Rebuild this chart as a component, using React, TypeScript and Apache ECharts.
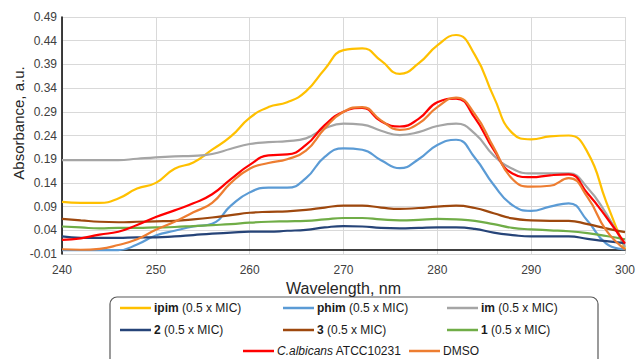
import React, { useEffect, useRef } from "react";
import * as echarts from "echarts";

const wavelengths = [
  240, 242, 244, 246, 248, 250, 252, 254, 256, 258, 260, 262, 264, 266, 268, 270,
  272, 274, 276, 278, 280, 282, 284, 286, 288, 290, 292, 294, 296, 298, 300,
];

const ipim = [
  0.1, 0.098, 0.098, 0.107, 0.128, 0.14, 0.17, 0.183, 0.21, 0.238, 0.277, 0.3, 0.31, 0.333, 0.38, 0.42,
  0.424, 0.398, 0.37, 0.392, 0.43, 0.452, 0.41, 0.322, 0.245, 0.232, 0.238, 0.24, 0.205, 0.1, 0.0,
];
const phim = [
  -0.002, -0.002, -0.002, -0.002, 0.01, 0.029, 0.039, 0.048, 0.054, 0.092, 0.12, 0.13, 0.13, 0.15, 0.195, 0.213,
  0.21, 0.188, 0.171, 0.19, 0.22, 0.231, 0.193, 0.136, 0.093, 0.081, 0.09, 0.097, 0.06, 0.012, 0.0,
];
const im = [
  0.188, 0.188, 0.188, 0.188, 0.191, 0.194, 0.196, 0.197, 0.201, 0.212, 0.222, 0.226, 0.228, 0.234, 0.255, 0.265,
  0.263, 0.25, 0.241, 0.247, 0.26, 0.265, 0.244, 0.198, 0.17, 0.16, 0.16, 0.16, 0.13, 0.075, 0.005,
];
const comp2 = [
  0.027, 0.024, 0.024, 0.024, 0.025, 0.025, 0.027, 0.03, 0.033, 0.035, 0.037, 0.037, 0.039, 0.041, 0.046, 0.049,
  0.048, 0.045, 0.044, 0.045, 0.046, 0.046, 0.043, 0.035, 0.03, 0.027, 0.027, 0.027, 0.022, 0.017, 0.013,
];
const comp3 = [
  0.064, 0.061, 0.058, 0.057, 0.058, 0.059, 0.06, 0.063, 0.067, 0.072, 0.077, 0.079, 0.08, 0.083, 0.088, 0.092,
  0.092, 0.088, 0.085, 0.087, 0.09, 0.092, 0.087, 0.076, 0.065, 0.061, 0.06, 0.06, 0.053, 0.044, 0.036,
];
const comp1 = [
  0.048, 0.046, 0.044, 0.045, 0.045, 0.046, 0.047, 0.049, 0.051, 0.053, 0.056, 0.058, 0.059, 0.06, 0.063, 0.066,
  0.066, 0.063, 0.061, 0.062, 0.064, 0.063, 0.06, 0.053, 0.045, 0.042, 0.04, 0.038, 0.034, 0.028, 0.021,
];
const albicans = [
  0.02, 0.023, 0.031, 0.037, 0.051, 0.068, 0.082, 0.097, 0.116, 0.148, 0.178, 0.198, 0.2, 0.22, 0.262, 0.29,
  0.298, 0.27, 0.259, 0.275, 0.31, 0.318, 0.277, 0.21, 0.16, 0.152, 0.156, 0.158, 0.118, 0.068, 0.012,
];
const dmso = [
  0.0, -0.001, 0.001, 0.009, 0.021, 0.041, 0.058, 0.078, 0.098, 0.14, 0.17, 0.182, 0.19, 0.208, 0.255, 0.29,
  0.3, 0.272, 0.252, 0.265, 0.3, 0.32, 0.285, 0.215, 0.148, 0.132, 0.134, 0.15, 0.11, 0.04, 0.0,
];

const seriesNames = [
  "ipim (0.5 x MIC)",
  "phim (0.5 x MIC)",
  "im (0.5 x MIC)",
  "2 (0.5 x MIC)",
  "3 (0.5 x MIC)",
  "1 (0.5 x MIC)",
  "C.albicans ATCC10231",
  "DMSO",
];
const legendLabels = [
  "{b|ipim} (0.5 x MIC)",
  "{b|phim} (0.5 x MIC)",
  "{b|im} (0.5 x MIC)",
  "{b|2} (0.5 x MIC)",
  "{b|3} (0.5 x MIC)",
  "{b|1} (0.5 x MIC)",
  "{i|C.albicans} ATCC10231",
  "DMSO",
];
const seriesData = [ipim, phim, im, comp2, comp3, comp1, albicans, dmso];
const colors = ["#FFC000", "#5B9BD5", "#A5A5A5", "#264478", "#9E480E", "#70AD47", "#FF0000", "#ED7D31"];

const legendPos = [
  [120, 309], [283, 309], [447, 309],
  [120, 331], [283, 331], [447, 331],
  [243, 352], [409, 352],
];

export default function App() {
  const ref = useRef<HTMLDivElement>(null);
  useEffect(() => {
    if (!ref.current) return;
    const chart = echarts.init(ref.current, null, { renderer: "svg" });
    const font = "Liberation Sans, Arial, sans-serif";
    const option: any = {
      animation: false,
      backgroundColor: "#ffffff",
      textStyle: { fontFamily: font },
      grid: { left: 62, right: 9, top: 17, bottom: 105 },
      xAxis: {
        type: "value",
        min: 240,
        max: 300,
        interval: 10,
        name: "Wavelength, nm",
        nameLocation: "middle",
        nameGap: 19,
        nameTextStyle: { fontSize: 16, color: "#262626", fontFamily: font },
        axisLine: { show: true, onZero: true, lineStyle: { color: "#000000", width: 1.5 } },
        axisTick: { show: false },
        axisLabel: { fontSize: 12, color: "#404040", margin: 10, fontFamily: font },
        splitLine: { show: true, lineStyle: { color: "#D9D9D9", width: 1 } },
      },
      yAxis: {
        type: "value",
        min: -0.01,
        max: 0.49,
        interval: 0.05,
        axisLine: { show: true, onZero: false, lineStyle: { color: "#000000", width: 1.5 } },
        axisTick: { show: false },
        axisLabel: {
          fontSize: 12,
          color: "#404040",
          margin: 5,
          fontFamily: font,
          formatter: (v: number) => v.toFixed(2),
        },
        splitLine: { show: true, lineStyle: { color: "#D9D9D9", width: 1 } },
      },
      legend: seriesNames.map((name, i) => ({
        data: [name],
        left: legendPos[i][0],
        top: legendPos[i][1] - 7,
        padding: 0,
        icon: "rect",
        itemWidth: 31,
        itemHeight: 2.5,
        formatter: () => legendLabels[i],
        textStyle: {
          fontSize: 12,
          color: "#1a1a1a",
          fontFamily: font,
          padding: [0, 0, 0, -2],
          rich: {
            b: { fontWeight: "bold", fontSize: 12, color: "#1a1a1a", fontFamily: font },
            i: { fontStyle: "italic", fontSize: 12, color: "#1a1a1a", fontFamily: font },
          },
        },
      })),
      graphic: [
        {
          type: "rect",
          shape: { x: 110, y: 297, width: 488, height: 72, r: 7 },
          style: { fill: "none", stroke: "#595959", lineWidth: 1.2 },
          silent: true,
        },
        {
          type: "text",
          x: 18,
          y: 123,
          rotation: Math.PI / 2,
          style: {
            text: "Absorbance, a.u.",
            fontSize: 15,
            fill: "#262626",
            fontFamily: font,
            align: "center",
            verticalAlign: "middle",
          },
        },
      ],
      series: seriesNames.map((name, i) => ({
        name,
        type: "line",
        data: wavelengths.map((w, k) => [w, seriesData[i][k]]),
        smooth: 0.5,
        showSymbol: false,
        symbol: "none",
        lineStyle: { color: colors[i], width: 2.2 },
        itemStyle: { color: colors[i] },
      })),
    };
    chart.setOption(option);
    return () => chart.dispose();
  }, []);
  return <div ref={ref} style={{ width: 638, height: 359, position: "absolute", left: 0, top: 0 }} />;
}
